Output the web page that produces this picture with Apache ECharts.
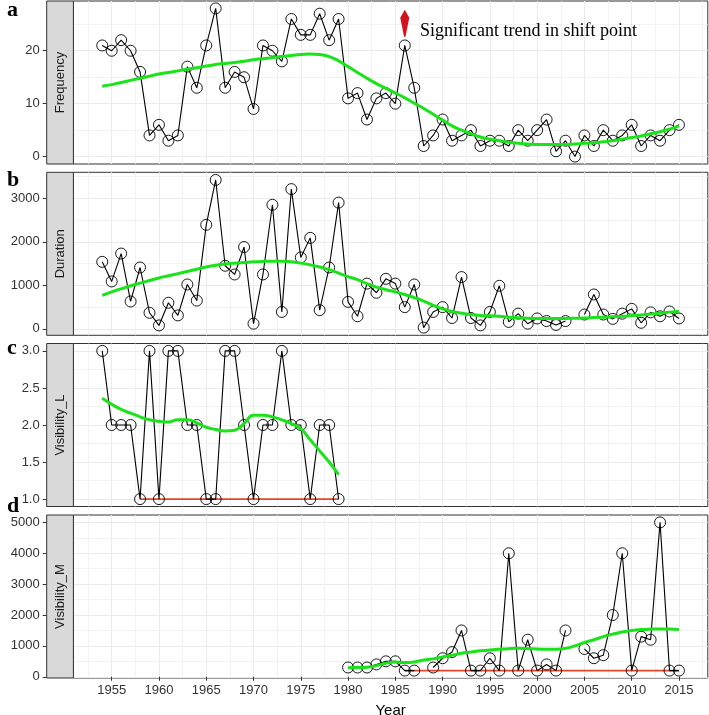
<!DOCTYPE html>
<html>
<head>
<meta charset="utf-8">
<script src="https://cdn.jsdelivr.net/npm/echarts@6/dist/echarts.min.js"></script>
<style>html,body{margin:0;padding:0;background:#fff}#c{width:709px;height:715px}</style>
</head>
<body>
<div id="c"></div>
<script>
// ---------- DATA ----------
const years = [1954,1955,1956,1957,1958,1959,1960,1961,1962,1963,1964,1965,1966,1967,1968,1969,1970,1971,1972,1973,1974,1975,1976,1977,1978,1979,1980,1981,1982,1983,1984,1985,1986,1987,1988,1989,1990,1991,1992,1993,1994,1995,1996,1997,1998,1999,2000,2001,2002,2003,2004,2005,2006,2007,2008,2009,2010,2011,2012,2013,2014,2015];

const frequency = [21,20,22,20,16,4,6,3,4,17,13,21,28,13,16,15,9,21,20,18,26,23,23,27,22,26,11,12,7,11,12,10,21,13,2,4,7,3,4,5,2,3,3,2,5,3,5,7,1,3,0,4,2,5,3,4,6,2,4,3,5,6];
const frequencySmooth = [13.3,13.6,14.0,14.4,14.8,15.2,15.6,15.9,16.2,16.5,16.8,17.1,17.4,17.6,17.8,18.0,18.3,18.5,18.7,18.9,19.1,19.3,19.4,19.3,18.9,18.1,17.0,15.9,14.8,13.8,12.9,12.0,11.1,10.1,9.1,8.0,6.9,5.8,5.0,4.3,3.7,3.3,3.0,2.7,2.5,2.4,2.3,2.3,2.3,2.3,2.4,2.5,2.6,2.8,3.0,3.3,3.6,3.9,4.3,4.7,5.2,5.8];

const duration = [1540,1090,1730,630,1410,370,80,600,310,1020,650,2390,3420,1450,1250,1880,120,1250,2850,390,3210,1640,2090,430,1410,2900,620,290,1040,830,1150,1040,500,1020,30,390,500,250,1190,250,80,390,990,160,350,120,240,180,90,180,null,330,790,330,230,350,460,140,380,290,400,240];
const durationSmooth = [770,850,920,990,1050,1110,1170,1220,1270,1320,1370,1420,1460,1490,1510,1525,1540,1550,1555,1555,1540,1510,1470,1420,1360,1280,1200,1130,1040,960,900,850,790,720,640,540,460,400,360,330,310,300,290,270,255,245,240,237,237,240,245,250,260,270,280,290,305,320,340,360,385,405];

const visYearsL = [1954,1955,1956,1957,1958,1959,1960,1961,1962,1963,1964,1965,1966,1967,1968,1969,1970,1971,1972,1973,1974,1975,1976,1977,1978,1979];
const visibilityL = [3,2,2,2,1,3,1,3,3,2,2,1,1,3,3,2,1,2,2,3,2,2,1,2,2,1];
const visibilityLSmooth = [2.36,2.28,2.21,2.16,2.11,2.07,2.05,2.04,2.07,2.07,2.03,1.97,1.94,1.92,1.93,2.02,2.13,2.13,2.11,2.07,2.02,1.95,1.80,1.65,1.50,1.33];
const visibilityLMinYears = [1958,1979];
const visibilityLMin = [1,1];

const visYearsM = [1980,1981,1982,1983,1984,1985,1986,1987,1988,1989,1990,1991,1992,1993,1994,1995,1996,1997,1998,1999,2000,2001,2002,2003,2004,2005,2006,2007,2008,2009,2010,2011,2012,2013,2014,2015];
const visibilityM = [300,300,300,400,500,500,200,200,null,300,600,800,1500,200,200,600,200,4000,200,1200,200,400,200,1500,null,900,600,700,2000,4000,200,1300,1200,5000,200,200];
const visibilityMSmooth = [290,300,310,360,440,480,460,480,540,580,640,700,760,800,840,870,890,910,920,910,900,890,890,920,1000,1110,1200,1300,1380,1450,1500,1530,1545,1550,1545,1535];
const visibilityMMinYears = [1986,2015];
const visibilityMMin = [200,200];

const shiftYear = [1986];
const shiftMarkY = [25.2];

const xTicks = [1955,1960,1965,1970,1975,1980,1985,1990,1995,2000,2005,2010,2015];
const yTicksA = [0,10,20];
const yTicksB = [0,1000,2000,3000];
const yTicksC = [1.0,1.5,2.0,2.5,3.0];
const yTicksD = [0,1000,2000,3000,4000,5000];
const stripLabels = ['Frequency','Duration','Visibility_L','Visibility_M'];
const panelLetters = ['a','b','c','d'];

// ---------- LAYOUT ----------
const LEFT = 73.4, RIGHT = 1.2, H = 163;
const tops = [1, 172.3, 343.5, 515];
const yRanges = [[-1.4,29.4],[-147,3596],[0.9,3.1],[-40,5240]];
const ySplit = [3,4,4,5];
const yTicks = [yTicksA,yTicksB,yTicksC,yTicksD];
const yFmt = [v=>String(v), v=>String(v), v=>v.toFixed(1), v=>String(v)];
const pair = (xs, ys) => xs.map((x,i)=>[x, ys[i]]);
const FONT = 'Liberation Sans, Arial, sans-serif';

const grids = tops.map(t=>({left:LEFT, right:RIGHT, top:t, height:H, outerBoundsMode:'none', containLabel:false,
  show:true, borderColor:'#333', borderWidth:1, backgroundColor:'transparent'}));

const xAxes = tops.map((t,i)=>({
  type:'value', gridIndex:i, min:1950.95, max:2018.05, splitNumber:13,
  axisLine:{show:false},
  axisTick:{show:i===3, customValues:xTicks, length:4, lineStyle:{color:'#333'}},
  axisLabel:{show:i===3, customValues:xTicks, formatter:v=>String(v), color:'#333', fontSize:13, margin:6, fontFamily:FONT},
  splitLine:{show:true, lineStyle:{color:'#ebebeb', width:1}},
  minorTick:{show:false, splitNumber:2},
  minorSplitLine:{show:true, lineStyle:{color:'#efefef', width:0.8}},
  name: i===3 ? 'Year' : '', nameLocation:'middle', nameGap:25,
  nameTextStyle:{color:'#000', fontSize:15, fontFamily:FONT}
}));

const yAxes = tops.map((t,i)=>({
  type:'value', gridIndex:i, min:yRanges[i][0], max:yRanges[i][1], splitNumber:ySplit[i],
  offset:26.7,
  axisLine:{show:false},
  axisTick:{show:true, customValues:yTicks[i], length:4, lineStyle:{color:'#333'}},
  axisLabel:{customValues:yTicks[i], formatter:yFmt[i], color:'#333', fontSize:13, margin:7, fontFamily:FONT},
  splitLine:{show:true, lineStyle:{color:'#ebebeb', width:1}},
  minorTick:{show:false, splitNumber:2},
  minorSplitLine:{show:true, lineStyle:{color:'#efefef', width:0.8}}
}));

const GREEN = '#19e319', RED = '#e3462a';
const pointStyle = {color:'transparent', borderColor:'#000', borderWidth:0.9};
function obsSeries(i, data){
  return {type:'line', xAxisIndex:i, yAxisIndex:i, data, symbol:'circle', symbolSize:11,
    showAllSymbol:true, connectNulls:false, itemStyle:pointStyle, lineStyle:{color:'#000', width:1.1}, z:3, silent:true, animation:false};
}
function smoothSeries(i, data){
  return {type:'line', xAxisIndex:i, yAxisIndex:i, data, symbol:'none', smooth:true,
    lineStyle:{color:GREEN, width:3}, z:4, silent:true, animation:false};
}
function minSeries(i, data){
  return {type:'line', xAxisIndex:i, yAxisIndex:i, data, symbol:'none',
    lineStyle:{color:RED, width:1.6}, z:2, silent:true, animation:false};
}

const series = [
  obsSeries(0, pair(years, frequency)),
  smoothSeries(0, pair(years, frequencySmooth)),
  {type:'scatter', xAxisIndex:0, yAxisIndex:0, data:pair(shiftYear, shiftMarkY),
   symbol:'path://M4.5,0 L9,8 L5.2,27 L3.8,27 L0,8 Z', symbolSize:[9,27],
   itemStyle:{color:'#d3141c', opacity:1}, z:5, silent:true, animation:false},
  obsSeries(1, pair(years, duration)),
  smoothSeries(1, pair(years, durationSmooth)),
  minSeries(2, pair(visibilityLMinYears, visibilityLMin)),
  obsSeries(2, pair(visYearsL, visibilityL)),
  smoothSeries(2, pair(visYearsL, visibilityLSmooth)),
  minSeries(3, pair(visibilityMMinYears, visibilityMMin)),
  obsSeries(3, pair(visYearsM, visibilityM)),
  smoothSeries(3, pair(visYearsM, visibilityMSmooth))
];

const graphics = [];
tops.forEach((t,i)=>{
  graphics.push({type:'rect', shape:{x:46.7, y:t, width:26.7, height:H},
    style:{fill:'#d9d9d9', stroke:'#333', lineWidth:1}, z:10, silent:true});
  graphics.push({type:'text', x:60, y:t+H/2, rotation:Math.PI/2,
    style:{text:stripLabels[i], fill:'#1a1a1a', font:'13px "Liberation Sans", Arial, sans-serif', textAlign:'center', textVerticalAlign:'middle'}, z:11, silent:true});
});
const letterBottoms = [21.5, 191, 359, 517.5];
panelLetters.forEach((L,i)=>{
  graphics.push({type:'text', x:7, y:letterBottoms[i],
    style:{text:L, fill:'#000', font:'bold 22px "Liberation Serif", "Times New Roman", serif', textAlign:'left', textVerticalAlign:'bottom'}, z:11, silent:true});
});
graphics.push({type:'text', x:420, y:31,
  style:{text:'Significant trend in shift point', fill:'#000', font:'18px "Liberation Serif", "Times New Roman", serif', textAlign:'left', textVerticalAlign:'middle'}, z:11, silent:true});

const chart = echarts.init(document.getElementById('c'), null, {renderer:'canvas'});
chart.setOption({
  animation:false,
  backgroundColor:'#fff',
  grid:grids, xAxis:xAxes, yAxis:yAxes, series, graphic:graphics
});
</script>
</body>
</html>
